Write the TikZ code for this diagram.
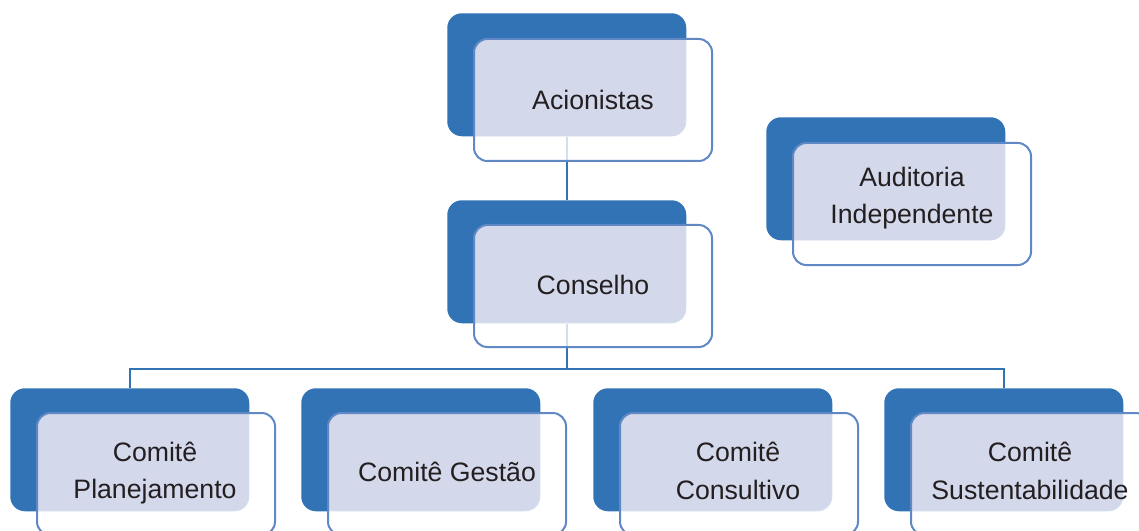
\documentclass[tikz,border=0pt]{standalone}
\usepackage{fontspec}
\setmainfont{Liberation Sans}
\begin{document}
\begin{tikzpicture}[x=0.75pt,y=-0.75pt,
  darkbox/.style={rectangle, rounded corners=11pt, fill=darkb, draw=none,
    minimum width=179.25pt, minimum height=92.25pt, inner sep=0pt, anchor=north west},
  frontbox/.style={rectangle, rounded corners=10pt, draw=edgeb, line width=1.5pt,
    fill=white, fill opacity=0.78,
    path picture={\fill[tint, fill opacity=0.3, rounded corners=11pt]
      ([shift={(-26.5,-24.5)}]path picture bounding box.north west) rectangle
      ([shift={(-26.5,-24.5)}]path picture bounding box.south east);},
    minimum width=178.5pt, minimum height=91.5pt, inner sep=0pt, anchor=north west},
  label/.style={text=txt, align=center, inner sep=0pt,
    font=\fontsize{20}{28}\selectfont},
  link/.style={draw=darkb, line width=1.5pt}]
\definecolor{darkb}{RGB}{49,115,181}
\definecolor{edgeb}{RGB}{95,136,197}
\definecolor{tint}{RGB}{220,200,230}
\definecolor{txt}{RGB}{35,31,32}
\useasboundingbox (0,0) rectangle (1139,531);
% dark back boxes
\node[darkbox] (acD) at (447,13) {};
\node[darkbox] (coD) at (447,200) {};
\node[darkbox] (auD) at (766,117) {};
\node[darkbox] (plD) at (10,388) {};
\node[darkbox] (geD) at (301,388) {};
\node[darkbox] (cuD) at (593,388) {};
\node[darkbox] (suD) at (884,388) {};
% connectors
\coordinate (hy) at (0,369);
\draw[link] (acD.south) -- (coD.north);
\draw[link] (coD.south) -- (coD.south |- hy);
\draw[link] (plD.north) -- (plD.north |- hy) -- (suD.north |- hy) -- (suD.north);
% front boxes
\node[frontbox] (acF) at (473,38) {};
\node[frontbox] (coF) at (473,224) {};
\node[frontbox] (auF) at (792,142) {};
\node[frontbox] (plF) at (36,412) {};
\node[frontbox] (geF) at (327,412) {};
\node[frontbox] (cuF) at (619,412) {};
\node[frontbox] (suF) at (910,412) {};
% texts
\node[label] (acT) at (593,100) {Acionistas};
\node[label] (coT) at (593,285) {Conselho};
\node[label] (auT) at (912,198) {Auditoria\\Independente};
\node[label] (plT) at (155,473) {Comitê\\Planejamento};
\node[label] (geT) at (447,472) {Comitê Gestão};
\node[label] (cuT) at (738,471) {Comitê\\Consultivo};
\node[label] (suT) at (1030,471) {Comitê\\Sustentabilidade};
\end{tikzpicture}
\end{document}
